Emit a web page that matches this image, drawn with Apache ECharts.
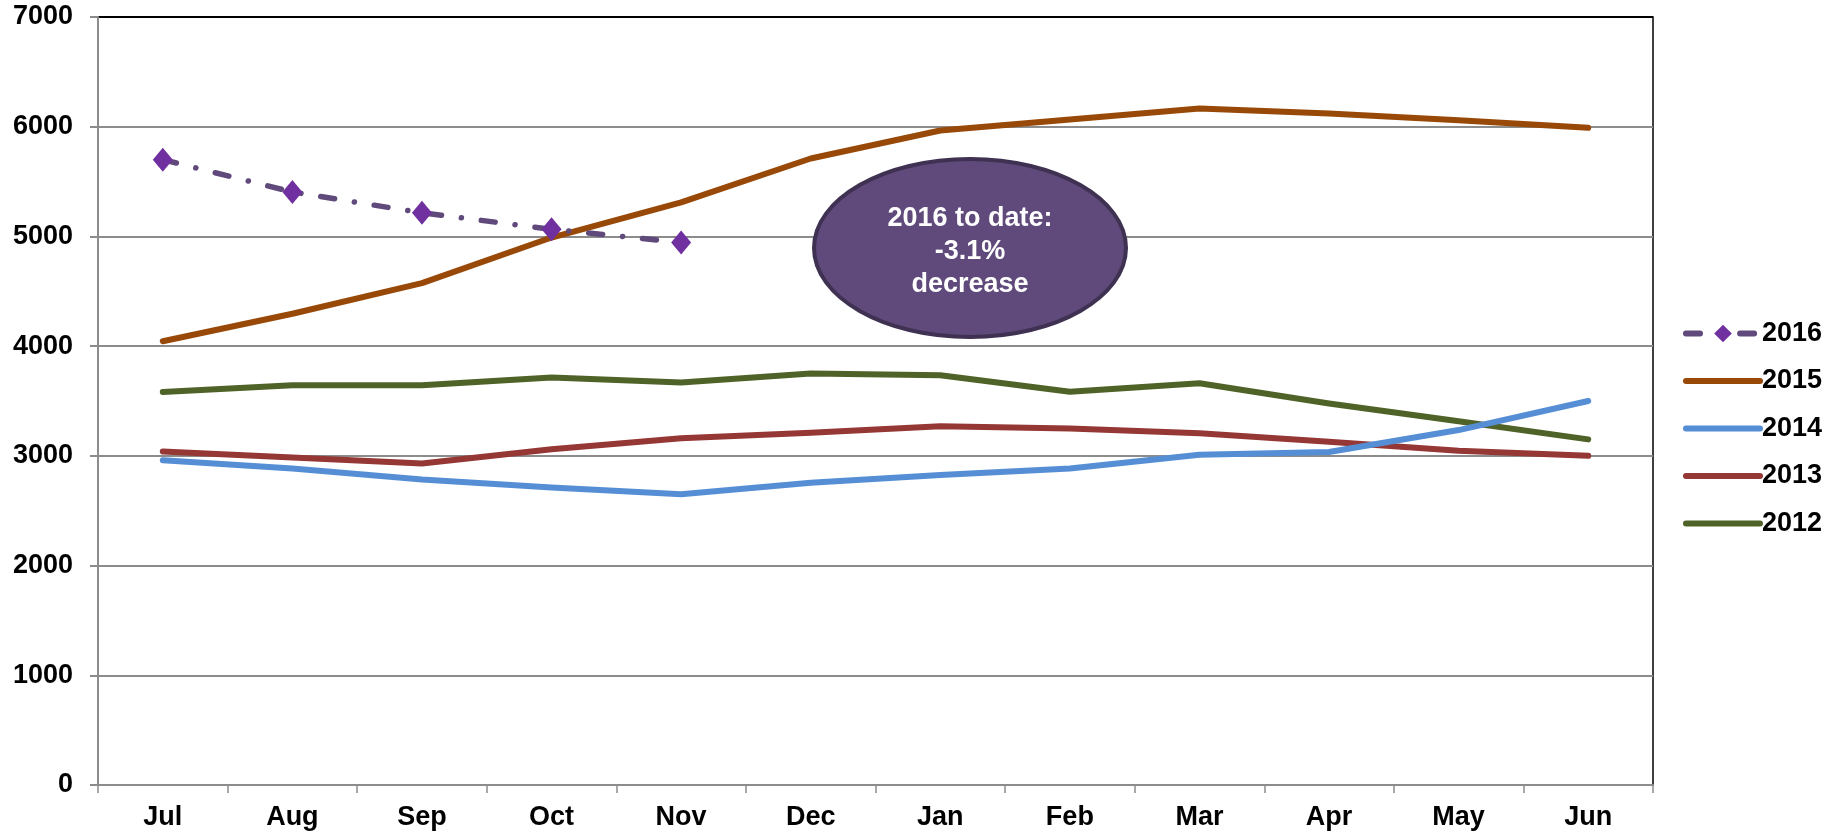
<!DOCTYPE html>
<html>
<head>
<meta charset="utf-8">
<script src="https://cdn.jsdelivr.net/npm/echarts@6/dist/echarts.min.js"></script>
<style>
  html, body { margin: 0; padding: 0; background: #fff; }
  #chart { width: 1843px; height: 835px; }
</style>
</head>
<body>
<div id="chart"></div>
<script>
const months = ['Jul', 'Aug', 'Sep', 'Oct', 'Nov', 'Dec', 'Jan', 'Feb', 'Mar', 'Apr', 'May', 'Jun'];
const y2016 = [5700, 5405, 5215, 5065, 4945];
const y2015 = [4045, 4295, 4575, 4990, 5310, 5710, 5965, 6065, 6165, 6120, 6060, 5990];
const y2014 = [2960, 2885, 2785, 2712, 2650, 2755, 2825, 2885, 3010, 3035, 3235, 3500];
const y2013 = [3040, 2985, 2930, 3060, 3160, 3210, 3270, 3250, 3205, 3128, 3046, 3000];
const y2012 = [3583, 3644, 3644, 3714, 3669, 3751, 3735, 3585, 3662, 3478, 3316, 3150];
const note = ['2016 to date:', '-3.1%', 'decrease'];

const font = '"Liberation Sans", Arial, sans-serif';
let myChart = echarts.init(document.getElementById('chart'));

function plain(name, data, color) {
  return {
    name: name,
    type: 'line',
    data: data,
    showSymbol: false,
    symbol: 'none',
    animation: false,
    lineStyle: { color: color, width: 6, cap: 'round', join: 'round' },
    itemStyle: { color: color }
  };
}

// legend entries: hide the symbol for the plain lines
function legendItem(name) {
  return { name: name, itemStyle: { opacity: 0 } };
}

let option = {
  backgroundColor: '#fff',
  animation: false,
  grid: {
    left: 98,
    right: 190,
    top: 17,
    bottom: 50,
    show: true,
    borderColor: '#000',
    borderWidth: 1.5
  },
  legend: {
    orient: 'vertical',
    left: 1678,
    top: 315,
    itemWidth: 74,
    itemHeight: 22,
    itemGap: 20.5,
    data: [
      { name: '2016' },
      legendItem('2015'),
      legendItem('2014'),
      legendItem('2013'),
      legendItem('2012')
    ],
    lineStyle: { width: 6, cap: 'round' },
    textStyle: { fontFamily: font, fontWeight: 'bold', fontSize: 27, color: '#000', padding: [0, 0, 0, -3] }
  },
  xAxis: {
    type: 'category',
    data: months,
    boundaryGap: true,
    axisLine: { lineStyle: { color: '#8c8c8c', width: 2 } },
    axisTick: { show: true, length: 8, lineStyle: { color: '#8c8c8c', width: 1.5 } },
    axisLabel: { margin: 19, fontFamily: font, fontWeight: 'bold', fontSize: 27, color: '#000' },
    splitLine: { show: false }
  },
  yAxis: {
    type: 'value',
    min: 0,
    max: 7000,
    interval: 1000,
    axisLine: { show: true, lineStyle: { color: '#8c8c8c', width: 2 } },
    axisTick: { show: true, length: 8, lineStyle: { color: '#8c8c8c', width: 2 } },
    axisLabel: {
      margin: 25,
      fontFamily: font,
      fontWeight: 'bold',
      fontSize: 27,
      color: '#000',
      formatter: function (v) { return String(v); }
    },
    splitLine: {
      show: true,
      lineStyle: {
        color: ['#8c8c8c', '#8c8c8c', '#8c8c8c', '#8c8c8c', '#8c8c8c', '#8c8c8c', '#8c8c8c', '#000'],
        width: 2
      }
    }
  },
  series: [
    plain('2012', y2012, '#4f6228'),
    plain('2013', y2013, '#953735'),
    plain('2014', y2014, '#558ed5'),
    plain('2015', y2015, '#984807'),
    {
      name: '2016',
      type: 'line',
      data: y2016,
      symbol: 'diamond',
      symbolSize: [20, 24],
      animation: false,
      lineStyle: { color: '#604a7b', width: 5.5, type: [14, 20, 0.1, 20], cap: 'round' },
      itemStyle: { color: '#7030a0' }
    }
  ],
  graphic: [
    {
      type: 'ellipse',
      shape: { cx: 970, cy: 248, rx: 156, ry: 89 },
      style: { fill: '#5f4a7b', stroke: '#3f3151', lineWidth: 4 },
      z: 100
    },
    {
      type: 'text',
      x: 970,
      y: 252,
      style: {
        text: note.join('\n'),
        fill: '#fff',
        font: 'bold 27px ' + font,
        lineHeight: 33,
        align: 'center',
        verticalAlign: 'middle'
      },
      z: 101
    }
  ]
};
myChart.setOption(option);
</script>
</body>
</html>
